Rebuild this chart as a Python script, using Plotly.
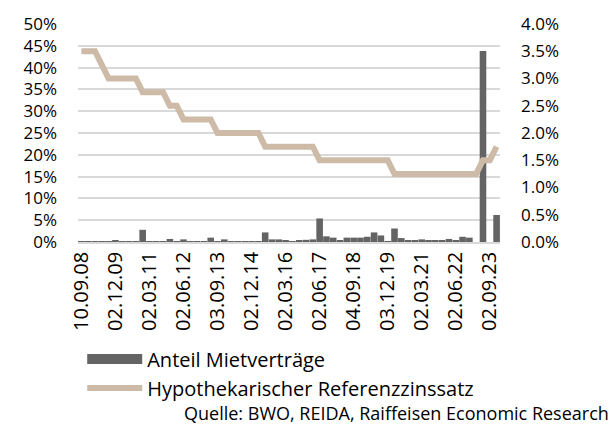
import plotly.graph_objects as go

dates = [
    "10.09.08", "02.12.08", "02.03.09", "02.06.09", "02.09.09",
    "02.12.09", "02.03.10", "02.06.10", "02.09.10", "02.12.10",
    "02.03.11", "02.06.11", "02.09.11", "02.12.11", "02.03.12",
    "02.06.12", "03.09.12", "03.12.12", "04.03.13", "03.06.13",
    "03.09.13", "02.12.13", "03.03.14", "02.06.14", "02.09.14",
    "02.12.14", "02.03.15", "02.06.15", "01.09.15", "01.12.15",
    "02.03.16", "01.06.16", "01.09.16", "01.12.16", "01.03.17",
    "02.06.17", "01.09.17", "01.12.17", "01.03.18", "01.06.18",
    "04.09.18", "03.12.18", "04.03.19", "03.06.19", "02.09.19",
    "03.12.19", "02.03.20", "02.06.20", "01.09.20", "01.12.20",
    "02.03.21", "01.06.21", "01.09.21", "01.12.21", "01.03.22",
    "02.06.22", "01.09.22", "01.12.22", "01.03.23", "01.06.23",
    "02.09.23", "01.12.23",
]

anteil_mietvertraege = [
    0.2, 0.1, 0.1, 0.1, 0.1,
    0.4, 0.1, 0.1, 0.2, 2.8,
    0.1, 0.1, 0.2, 0.7, 0.2,
    0.6, 0.2, 0.2, 0.1, 1.0,
    0.2, 0.6, 0.1, 0.1, 0.1,
    0.1, 0.2, 2.2, 0.6, 0.6,
    0.3, 0.1, 0.4, 0.5, 0.6,
    5.4, 1.3, 1.0, 0.4, 1.0,
    1.0, 1.0, 1.2, 2.2, 1.5,
    0.2, 3.1, 0.9, 0.4, 0.4,
    0.6, 0.4, 0.4, 0.4, 0.7,
    0.4, 1.2, 1.0, 0.0, 43.8,
    0.0, 6.2,
]

referenzzinssatz = [
    3.5, 3.5, 3.5, 3.25, 3.0,
    3.0, 3.0, 3.0, 3.0, 2.75,
    2.75, 2.75, 2.75, 2.5, 2.5,
    2.25, 2.25, 2.25, 2.25, 2.25,
    2.0, 2.0, 2.0, 2.0, 2.0,
    2.0, 2.0, 1.75, 1.75, 1.75,
    1.75, 1.75, 1.75, 1.75, 1.75,
    1.5, 1.5, 1.5, 1.5, 1.5,
    1.5, 1.5, 1.5, 1.5, 1.5,
    1.5, 1.25, 1.25, 1.25, 1.25,
    1.25, 1.25, 1.25, 1.25, 1.25,
    1.25, 1.25, 1.25, 1.25, 1.5,
    1.5, 1.75,
]

tick_labels = dates[::5]

left_ticks = list(range(0, 51, 5))
right_ticks = [0.0, 0.5, 1.0, 1.5, 2.0, 2.5, 3.0, 3.5, 4.0]

BAR_COLOR = "#646464"
LINE_COLOR = "#CDBBA7"
GRID_COLOR = "#D9D9D9"
FONT = "Open Sans"

fig = go.Figure()

fig.add_trace(go.Bar(
    x=dates, y=anteil_mietvertraege, name="Anteil Mietverträge",
    marker=dict(color=BAR_COLOR, line=dict(width=0)),
    showlegend=False, yaxis="y",
))
# legend entry drawn as a wide block, like the original
fig.add_trace(go.Scatter(
    x=[None], y=[None], mode="lines", name="Anteil Mietverträge",
    line=dict(color=BAR_COLOR, width=12), yaxis="y",
))
fig.add_trace(go.Scatter(
    x=dates, y=referenzzinssatz, name="Hypothekarischer Referenzzinssatz",
    mode="lines", line=dict(color=LINE_COLOR, width=6), yaxis="y2",
))

fig.update_layout(
    width=610, height=428,
    margin=dict(l=78, r=110, t=20, b=186),
    paper_bgcolor="white", plot_bgcolor="white",
    font=dict(family=FONT, size=20, color="#000000"),
    bargap=0.03,
    showlegend=True,
    legend=dict(
        orientation="v", x=0.01, y=-0.447, xanchor="left", yanchor="top",
        font=dict(size=20), itemwidth=55, tracegroupgap=0,
        bgcolor="rgba(0,0,0,0)", itemsizing="trace",
    ),
    xaxis=dict(
        type="category", tickmode="array", tickvals=tick_labels, ticktext=tick_labels,
        tickangle=-90, showgrid=False, showline=True, linecolor=GRID_COLOR, linewidth=1.5,
        ticks="", tickfont=dict(size=20), range=[-0.5, len(dates) - 0.5],
    ),
    yaxis=dict(
        range=[0, 50], tickmode="array", tickvals=left_ticks,
        ticktext=[f"{v}%" for v in left_ticks],
        showgrid=True, gridcolor=GRID_COLOR, gridwidth=1.5, zeroline=False,
        ticks="", tickfont=dict(size=17), ticklabelstandoff=20,
    ),
    yaxis2=dict(
        range=[0, 4], overlaying="y", side="right", tickmode="array",
        tickvals=right_ticks, ticktext=[f"{v:.1f}%" for v in right_ticks],
        showgrid=False, zeroline=False, ticks="", tickfont=dict(size=17),
        ticklabelstandoff=20,
    ),
    annotations=[dict(
        text="Quelle: BWO, REIDA, Raiffeisen Economic Research",
        xref="paper", yref="paper", x=1.262, y=-0.785,
        xanchor="right", yanchor="middle", showarrow=False,
        font=dict(size=18, family=FONT),
    )],
)

fig.write_html("out.html")
